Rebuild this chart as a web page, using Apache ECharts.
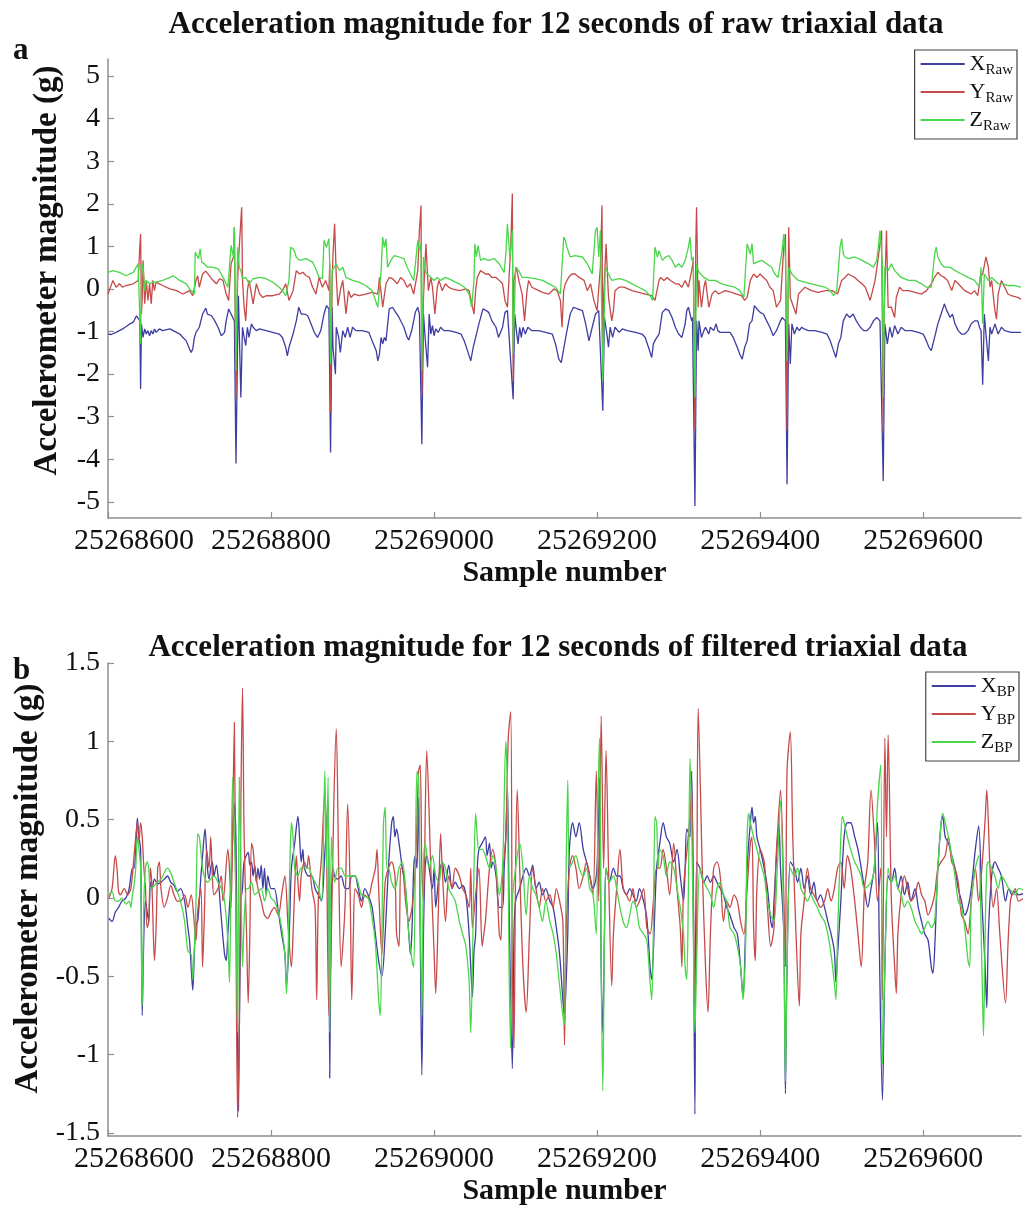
<!DOCTYPE html>
<html>
<head>
<meta charset="utf-8">
<script src="https://cdn.jsdelivr.net/npm/echarts@6/dist/echarts.min.js"></script>
<style>
html, body { margin: 0; padding: 0; background: #ffffff; }
#chart { width: 1023px; height: 1207px; }
</style>
</head>
<body>
<div id="chart"></div>
<script>
// Sample window shown on both panels
const firstSample = 25268600;
const lastSample = 25269720;
const sampleTicks = [25268600, 25268800, 25269000, 25269200, 25269400, 25269600];
const rawTicks = [-5, -4, -3, -2, -1, 0, 1, 2, 3, 4, 5];
const bpTicks = [-1.5, -1, -0.5, 0, 0.5, 1, 1.5];

// Raw triaxial acceleration, [sample offset from firstSample, g]
const rawX = [[0,-1.06],[4,-1.07],[10,-1.02],[18,-0.94],[27,-0.82],[31,-0.78],[35,-0.63],[37,-0.59],[39,-0.75],[40,-2.35],[41,-0.82],[43,-1.14],[45,-0.94],[47,-1.06],[49,-0.98],[51,-1.10],[53,-0.98],[55,-1.06],[57,-0.94],[59,-1.02],[63,-0.94],[67,-0.98],[76,-0.94],[84,-1.02],[88,-1.06],[92,-1.14],[96,-1.22],[100,-1.41],[102,-1.49],[104,-1.41],[106,-1.14],[108,-1.02],[112,-0.90],[116,-0.59],[120,-0.45],[122,-0.59],[127,-0.63],[131,-0.75],[135,-0.90],[139,-1.10],[141,-1.14],[143,-1.02],[145,-0.75],[148,-0.47],[151,-0.59],[153,-0.55],[155,-0.75],[157,-4.10],[159,-1.22],[160,-0.16],[161,-0.98],[163,-2.55],[165,-0.90],[167,-1.14],[169,-1.33],[171,-0.90],[173,-1.14],[176,-0.82],[178,-0.90],[182,-0.98],[186,-0.94],[194,-0.98],[202,-1.02],[210,-1.06],[214,-1.14],[218,-1.37],[220,-1.57],[222,-1.37],[227,-1.06],[231,-0.75],[234,-0.43],[237,-0.59],[241,-0.59],[245,-0.63],[249,-0.82],[253,-1.02],[257,-1.14],[261,-0.98],[265,-0.59],[268,-0.39],[271,-0.47],[273,-3.84],[275,-0.43],[276,-1.37],[279,-2.00],[280,-0.90],[283,-1.14],[285,-1.49],[288,-0.98],[291,-1.14],[294,-0.90],[297,-1.14],[300,-0.90],[304,-0.98],[312,-0.98],[320,-1.02],[324,-1.22],[329,-1.45],[331,-1.69],[333,-1.53],[335,-1.14],[337,-1.29],[339,-1.14],[341,-1.22],[345,-0.47],[349,-0.43],[353,-0.55],[357,-0.67],[363,-0.90],[367,-1.14],[369,-1.20],[373,-0.94],[377,-0.55],[380,-0.43],[382,-0.59],[385,-3.65],[387,-0.59],[389,-1.14],[392,-1.84],[394,-0.59],[396,-1.06],[398,-0.86],[400,-1.10],[402,-0.94],[405,-1.02],[408,-0.90],[412,-0.98],[418,-0.98],[427,-1.02],[433,-1.06],[437,-1.22],[441,-1.45],[445,-1.69],[448,-1.37],[451,-1.14],[455,-0.82],[460,-0.47],[464,-0.51],[467,-0.55],[471,-0.75],[476,-0.90],[479,-1.14],[480,-1.14],[484,-0.90],[487,-0.55],[490,-0.51],[497,-2.59],[499,-0.59],[501,-0.98],[503,-1.29],[505,-0.90],[507,-1.14],[509,-0.90],[512,-1.06],[515,-0.90],[520,-0.98],[528,-0.98],[537,-1.02],[545,-1.06],[549,-1.29],[553,-1.65],[556,-1.73],[559,-1.41],[563,-0.98],[567,-0.59],[571,-0.43],[576,-0.47],[582,-0.51],[586,-0.82],[590,-1.22],[594,-0.90],[598,-0.59],[602,-0.51],[607,-2.86],[609,-0.67],[612,-1.06],[614,-1.37],[616,-0.90],[619,-1.14],[622,-0.90],[627,-1.02],[631,-0.94],[637,-0.98],[647,-1.02],[655,-1.06],[659,-1.14],[663,-1.37],[667,-1.61],[669,-1.29],[672,-1.18],[676,-1.06],[680,-0.55],[684,-0.47],[688,-0.51],[692,-0.67],[696,-0.90],[700,-1.06],[704,-1.14],[708,-0.82],[710,-0.51],[712,-0.43],[716,-0.75],[717,-0.67],[720,-5.10],[722,-0.75],[724,-1.45],[725,-0.75],[728,-1.14],[731,-0.98],[733,-0.90],[737,-1.06],[739,-0.90],[743,-0.98],[746,-0.82],[748,-0.98],[751,-1.02],[757,-1.02],[763,-1.02],[767,-1.14],[771,-1.33],[775,-1.53],[778,-1.65],[781,-1.37],[784,-1.22],[787,-0.82],[790,-0.75],[793,-0.39],[796,-0.47],[800,-0.55],[804,-0.59],[808,-0.75],[812,-0.90],[816,-1.10],[820,-0.98],[825,-0.75],[827,-0.67],[831,-0.75],[833,-4.59],[835,-0.82],[837,-1.76],[839,-0.82],[842,-1.06],[845,-0.90],[848,-0.98],[851,-0.90],[854,-0.94],[859,-0.98],[867,-0.98],[876,-1.02],[882,-1.06],[886,-1.22],[890,-1.45],[893,-1.61],[896,-1.29],[899,-1.14],[902,-0.75],[906,-0.59],[910,-0.67],[914,-0.59],[918,-0.75],[923,-0.90],[927,-0.98],[931,-0.98],[935,-0.90],[939,-0.75],[943,-0.67],[947,-0.75],[951,-4.51],[953,-0.82],[956,-1.29],[959,-0.90],[962,-1.14],[965,-0.86],[969,-1.06],[973,-0.90],[978,-0.98],[986,-0.98],[994,-1.02],[1000,-1.06],[1004,-1.22],[1007,-1.37],[1010,-1.45],[1012,-1.29],[1015,-1.06],[1018,-0.82],[1022,-0.59],[1026,-0.35],[1029,-0.51],[1033,-0.67],[1036,-0.59],[1039,-0.82],[1043,-0.98],[1047,-1.06],[1051,-1.06],[1055,-0.98],[1059,-0.82],[1063,-0.75],[1067,-0.75],[1069,-0.90],[1071,-0.98],[1073,-2.25],[1075,-0.59],[1077,-1.06],[1080,-1.69],[1082,-0.90],[1084,-1.06],[1088,-0.82],[1092,-1.06],[1096,-0.90],[1100,-0.98],[1108,-1.02],[1120,-1.02]];

const rawY = [[0,-0.12],[6,0.20],[10,0.04],[14,0.12],[18,0.04],[22,0.08],[31,0.12],[37,0.20],[39,0.98],[40,1.29],[41,-0.59],[42,-0.20],[43,0.67],[44,0.20],[45,-0.35],[47,0.20],[49,-0.27],[51,0.12],[53,-0.35],[55,0.20],[57,-0.04],[59,0.16],[63,0.12],[67,0.08],[76,0.00],[84,-0.04],[92,-0.12],[96,-0.08],[100,-0.04],[104,-0.16],[108,0.20],[110,0.31],[112,0.04],[114,0.04],[116,0.35],[120,0.42],[127,0.24],[133,0.12],[137,0.24],[141,0.20],[145,-0.12],[148,-0.27],[151,0.59],[154,0.75],[155,1.45],[157,-2.55],[159,0.20],[161,0.98],[163,1.61],[164,1.92],[165,0.20],[167,-0.43],[169,-0.75],[171,-0.04],[173,0.20],[176,-0.12],[178,-0.35],[182,0.12],[186,-0.12],[190,-0.20],[194,-0.16],[202,-0.16],[210,-0.12],[214,-0.04],[218,0.12],[222,-0.27],[227,-0.04],[231,0.43],[235,0.35],[239,0.39],[243,0.31],[247,0.27],[251,0.04],[255,-0.12],[259,0.27],[263,0.04],[267,0.20],[271,-0.04],[272,0.60],[273,-2.90],[275,0.20],[276,0.80],[278,1.53],[280,0.30],[282,-0.40],[285,-0.04],[288,0.20],[292,-0.59],[295,-0.04],[298,-0.20],[302,-0.12],[308,-0.16],[316,-0.12],[324,-0.08],[331,-0.12],[333,0.27],[337,-0.43],[341,0.12],[345,0.27],[349,0.24],[355,0.12],[359,0.27],[363,0.20],[367,0.04],[371,0.12],[375,-0.12],[380,0.43],[382,1.37],[384,1.96],[385,-2.50],[387,-0.20],[390,1.06],[393,-0.04],[396,0.27],[398,0.04],[401,-0.59],[404,0.04],[406,0.20],[410,-0.04],[414,0.12],[418,0.04],[422,0.00],[431,-0.04],[439,0.00],[443,-0.04],[449,-0.59],[451,-0.04],[453,0.27],[457,0.43],[463,0.35],[467,0.35],[471,0.27],[476,0.27],[480,0.20],[484,0.12],[487,-0.27],[490,-0.43],[494,0.98],[496,2.24],[497,-2.16],[498,0.20],[501,0.51],[504,0.20],[508,-0.12],[511,-0.75],[514,-0.04],[516,0.20],[520,0.04],[524,0.00],[533,-0.08],[541,-0.12],[547,0.00],[551,-0.04],[555,-0.27],[557,-0.90],[559,-0.04],[561,0.12],[565,0.27],[569,0.35],[573,0.35],[578,0.27],[584,0.20],[588,-0.04],[592,0.12],[596,-0.27],[600,-0.51],[604,0.51],[606,1.96],[607,-2.00],[608,-0.20],[611,1.06],[614,-0.20],[618,-0.75],[620,-0.51],[622,-0.04],[627,0.04],[633,0.04],[643,-0.04],[651,-0.08],[659,-0.12],[667,-0.16],[671,-0.27],[676,0.20],[678,0.27],[682,0.20],[686,0.27],[690,0.20],[696,0.12],[700,0.12],[704,0.04],[708,0.20],[712,0.04],[716,0.43],[718,0.67],[720,-3.33],[721,0.98],[722,1.92],[724,-0.43],[725,0.20],[728,-0.43],[731,0.04],[733,0.20],[737,-0.43],[741,-0.12],[745,-0.04],[749,-0.12],[757,-0.04],[765,-0.08],[771,-0.12],[777,-0.16],[781,-0.27],[784,-0.20],[788,0.20],[792,0.35],[796,0.27],[800,0.35],[804,0.27],[808,0.20],[812,0.04],[816,-0.04],[820,-0.43],[825,-0.27],[829,0.98],[831,1.29],[833,-3.33],[835,1.45],[837,-0.20],[841,-0.43],[844,-0.59],[847,-0.12],[851,-0.04],[855,0.04],[863,-0.04],[871,-0.08],[880,-0.04],[888,-0.04],[895,-0.12],[900,0.20],[904,0.27],[908,0.35],[912,0.31],[916,0.27],[920,0.20],[925,0.12],[929,0.04],[935,-0.27],[941,0.20],[945,0.75],[949,1.37],[951,-3.33],[952,-0.59],[955,1.37],[957,-0.43],[961,-0.43],[965,-0.67],[967,-0.20],[971,0.04],[975,-0.04],[982,-0.04],[990,-0.08],[998,-0.12],[1004,-0.04],[1010,0.12],[1014,0.27],[1018,0.39],[1022,0.31],[1026,0.27],[1030,0.20],[1035,-0.04],[1039,0.20],[1043,0.12],[1047,0.04],[1051,-0.04],[1055,-0.08],[1059,-0.12],[1063,-0.04],[1067,-0.16],[1070,0.27],[1073,0.35],[1077,0.75],[1080,0.51],[1082,0.04],[1084,0.20],[1088,-0.51],[1090,-0.71],[1092,-0.12],[1096,0.20],[1100,0.04],[1104,-0.12],[1108,-0.16],[1116,-0.20],[1120,-0.24]];

const rawZ = [[0,0.39],[6,0.43],[14,0.39],[22,0.31],[31,0.39],[37,0.59],[39,0.63],[40,-1.29],[41,0.20],[42,0.59],[43,0.51],[45,-0.04],[47,0.20],[51,0.12],[55,0.16],[59,0.16],[67,0.20],[76,0.27],[80,0.31],[88,0.20],[96,0.12],[100,0.00],[106,-0.12],[107,0.86],[109,0.90],[111,0.71],[113,0.94],[115,0.63],[118,0.59],[122,0.51],[128,0.51],[135,0.47],[139,0.35],[143,0.20],[147,0.04],[151,1.02],[154,0.75],[155,1.45],[157,-1.92],[159,0.98],[161,0.51],[163,0.43],[165,0.24],[169,0.27],[173,0.12],[178,0.24],[186,0.27],[194,0.24],[202,0.16],[210,0.04],[214,-0.04],[218,-0.16],[222,0.20],[224,0.98],[227,0.94],[229,0.86],[231,0.75],[235,0.67],[243,0.71],[251,0.63],[255,0.47],[259,0.27],[263,0.24],[265,1.14],[268,0.98],[271,1.18],[272,0.59],[273,-1.76],[275,0.43],[280,0.59],[284,0.43],[288,0.51],[292,0.27],[300,0.20],[308,0.16],[316,0.08],[324,-0.04],[331,-0.43],[335,0.43],[337,1.22],[339,0.98],[341,1.18],[343,0.51],[347,0.67],[351,0.78],[357,0.75],[363,0.71],[367,0.51],[371,0.35],[375,0.20],[380,1.14],[382,0.90],[384,1.06],[385,-1.92],[387,0.75],[389,0.43],[391,0.35],[394,0.31],[400,0.20],[404,0.27],[408,0.20],[414,0.27],[422,0.20],[431,0.12],[437,0.04],[443,-0.12],[446,-0.43],[449,0.20],[450,1.06],[452,0.75],[454,1.02],[457,0.67],[461,0.71],[467,0.67],[474,0.71],[480,0.59],[486,0.39],[488,0.82],[490,1.53],[493,0.75],[496,1.37],[497,-1.53],[500,0.51],[504,0.43],[508,0.27],[514,0.27],[524,0.24],[533,0.20],[541,0.12],[549,0.04],[555,-0.12],[559,1.22],[561,1.14],[563,0.98],[567,0.75],[573,0.78],[582,0.75],[588,0.59],[594,0.35],[598,1.37],[600,1.45],[602,0.75],[604,1.37],[607,-2.16],[610,0.51],[614,0.35],[618,0.20],[627,0.24],[635,0.20],[643,0.12],[651,0.04],[659,-0.04],[665,-0.16],[668,-0.27],[671,0.98],[674,0.75],[676,0.90],[680,0.67],[684,0.75],[688,0.78],[692,0.67],[696,0.51],[700,0.59],[704,0.51],[708,0.67],[712,0.98],[714,1.22],[716,0.67],[718,0.75],[720,-2.55],[722,0.59],[724,0.43],[727,0.35],[731,0.27],[737,0.20],[745,0.20],[753,0.12],[761,0.08],[769,0.04],[775,-0.04],[780,-0.20],[782,-0.24],[784,1.06],[786,1.10],[788,0.82],[790,1.06],[792,0.59],[796,0.63],[802,0.67],[808,0.59],[814,0.51],[818,0.35],[822,0.27],[827,0.90],[829,1.29],[831,0.75],[833,-1.69],[835,0.51],[839,0.35],[843,0.27],[847,0.20],[855,0.16],[863,0.12],[871,0.08],[880,0.04],[886,-0.04],[890,-0.16],[894,-0.04],[898,0.98],[900,1.18],[902,0.82],[904,0.75],[908,0.71],[916,0.75],[925,0.67],[933,0.59],[939,0.51],[943,0.67],[945,0.98],[947,1.37],[950,0.59],[951,-2.55],[953,0.51],[957,0.43],[961,0.59],[965,0.43],[969,0.35],[973,0.27],[982,0.20],[990,0.20],[998,0.12],[1004,0.04],[1010,0.04],[1014,0.82],[1016,0.98],[1018,0.75],[1022,0.59],[1026,0.51],[1033,0.51],[1039,0.43],[1047,0.35],[1055,0.27],[1063,0.20],[1069,0.04],[1071,0.51],[1073,-0.82],[1075,0.35],[1080,0.20],[1084,0.27],[1092,0.12],[1098,0.12],[1104,0.08],[1112,0.08],[1120,0.04]];

// Band-pass filtered acceleration, [sample offset from firstSample, g]
const bpX = [[1,-0.13],[5,-0.15],[9,-0.09],[13,-0.06],[17,-0.02],[22,0.00],[26,0.06],[30,0.19],[32,0.19],[34,0.31],[36,0.51],[38,0.39],[40,0.31],[42,-0.75],[44,-0.23],[46,-0.02],[48,-0.09],[50,-0.15],[52,0.10],[54,0.06],[57,0.12],[61,0.09],[65,0.10],[69,0.12],[73,0.14],[77,0.10],[81,0.08],[85,0.04],[89,0.06],[94,-0.02],[98,-0.19],[100,-0.27],[102,-0.44],[104,-0.59],[106,-0.34],[108,-0.17],[110,-0.15],[112,-0.02],[114,0.14],[116,0.27],[119,0.44],[122,0.19],[124,0.12],[126,0.19],[128,0.23],[130,0.14],[133,0.21],[135,0.14],[139,-0.13],[143,-0.36],[145,-0.40],[147,-0.23],[149,-0.06],[151,0.10],[153,0.39],[155,0.60],[157,0.35],[160,-1.36],[163,-0.02],[165,0.06],[167,0.23],[172,0.29],[174,0.21],[176,0.23],[178,0.14],[180,0.21],[182,0.10],[184,0.19],[186,0.12],[188,0.21],[190,0.06],[192,0.19],[194,0.02],[196,0.14],[200,0.06],[204,0.06],[209,-0.09],[213,-0.23],[217,-0.36],[219,-0.56],[221,-0.40],[223,-0.13],[225,0.19],[229,0.35],[233,0.52],[235,0.39],[237,0.23],[239,0.31],[241,0.19],[246,0.14],[250,0.14],[254,0.06],[258,0.02],[262,-0.02],[266,0.29],[270,0.60],[272,-1.15],[274,-0.02],[276,0.19],[278,0.14],[282,0.12],[286,0.14],[291,0.06],[295,0.06],[299,0.14],[303,0.14],[307,0.06],[311,-0.02],[315,0.06],[319,0.02],[324,-0.06],[328,-0.23],[332,-0.40],[336,-0.50],[340,-0.23],[344,0.19],[348,0.48],[350,0.52],[352,0.39],[354,0.44],[357,0.35],[361,0.19],[365,0.06],[369,-0.23],[371,-0.36],[373,-0.19],[375,0.19],[377,0.27],[379,0.19],[381,0.64],[383,-0.23],[385,-1.13],[387,-0.23],[389,0.19],[391,0.27],[394,0.19],[398,0.06],[400,0.19],[402,-0.06],[406,0.14],[410,0.23],[414,0.10],[418,0.21],[422,0.06],[426,0.10],[431,0.06],[435,0.08],[439,0.02],[443,-0.23],[445,-0.44],[447,-0.63],[449,-0.34],[451,-0.23],[453,0.19],[455,0.31],[459,0.35],[463,0.39],[465,0.27],[468,0.35],[470,0.19],[472,0.23],[476,0.14],[480,-0.06],[484,-0.06],[486,0.19],[488,0.39],[490,0.71],[492,-0.02],[494,-0.65],[496,-1.09],[498,-0.23],[500,-0.02],[505,0.06],[509,0.14],[513,0.19],[517,0.14],[521,0.21],[525,0.06],[529,0.10],[533,0.02],[537,0.06],[542,-0.02],[546,-0.06],[550,-0.19],[554,-0.36],[558,-0.65],[560,-0.75],[562,-0.54],[564,-0.23],[566,0.31],[570,0.48],[574,0.39],[578,0.48],[583,0.31],[587,0.23],[591,0.14],[595,0.06],[599,0.14],[601,0.35],[603,0.77],[605,-0.44],[607,-0.86],[609,-0.23],[611,0.19],[615,0.10],[620,0.19],[624,0.14],[628,0.14],[632,0.06],[636,0.02],[640,0.06],[644,0.02],[648,-0.02],[652,0.06],[657,-0.02],[661,-0.13],[665,-0.44],[667,-0.52],[669,-0.34],[673,0.19],[677,0.35],[681,0.48],[685,0.39],[689,0.35],[694,0.23],[698,0.31],[702,0.14],[706,-0.02],[708,0.19],[710,0.44],[714,0.39],[716,0.81],[718,-0.02],[720,-1.38],[722,0.23],[726,0.19],[731,0.10],[735,0.14],[739,0.10],[743,0.14],[747,0.10],[751,0.06],[755,0.02],[759,-0.06],[763,-0.11],[768,-0.19],[772,-0.23],[776,-0.44],[779,-0.63],[782,-0.23],[784,0.19],[788,0.48],[790,0.58],[792,0.48],[794,0.52],[796,0.39],[800,0.31],[805,0.19],[809,0.06],[813,-0.15],[815,-0.19],[817,-0.02],[821,0.35],[823,0.48],[825,0.19],[829,-0.23],[831,-1.25],[833,-0.44],[837,0.23],[842,0.19],[846,0.10],[850,0.19],[854,0.06],[858,0.14],[862,0.02],[866,0.10],[870,-0.02],[874,0.02],[879,-0.06],[883,-0.15],[887,-0.23],[891,-0.34],[893,-0.54],[895,-0.36],[899,-0.02],[903,0.39],[907,0.48],[911,0.48],[916,0.39],[920,0.31],[924,0.19],[928,0.06],[932,-0.06],[936,0.06],[940,0.19],[944,0.48],[946,-0.23],[950,-1.29],[953,-0.44],[957,0.14],[961,0.10],[965,0.19],[969,0.06],[973,0.14],[977,0.02],[981,0.10],[985,-0.02],[990,0.06],[994,-0.06],[998,-0.15],[1002,-0.23],[1006,-0.27],[1010,-0.44],[1012,-0.48],[1014,-0.34],[1018,0.19],[1022,0.48],[1024,0.52],[1027,0.39],[1031,0.35],[1035,0.27],[1039,0.19],[1043,0.06],[1047,-0.02],[1051,-0.11],[1055,-0.06],[1059,0.06],[1064,0.31],[1068,0.46],[1072,-0.02],[1076,-0.44],[1078,-0.70],[1080,-0.23],[1084,0.14],[1088,0.23],[1092,0.19],[1096,0.14],[1101,-0.02],[1105,0.06],[1109,0.02],[1113,0.04],[1117,0.02],[1129,0.04]];

const bpY = [[1,0.00],[5,0.06],[9,0.27],[11,0.19],[13,0.04],[15,0.02],[20,0.06],[24,0.02],[28,0.06],[32,0.27],[34,0.39],[36,0.48],[38,0.35],[40,0.48],[42,0.39],[44,0.19],[46,0.06],[48,-0.19],[50,-0.15],[52,0.19],[54,0.06],[57,-0.40],[59,-0.19],[61,0.19],[63,0.23],[65,0.06],[69,-0.06],[73,0.00],[77,0.08],[81,0.02],[85,-0.02],[89,-0.02],[94,0.02],[98,-0.06],[102,0.02],[106,-0.17],[108,-0.27],[110,-0.09],[114,0.06],[116,-0.44],[118,-0.15],[121,0.31],[124,0.19],[126,0.39],[128,0.14],[130,0.02],[135,0.06],[139,0.14],[141,-0.02],[143,0.06],[147,0.31],[149,0.19],[151,-0.06],[153,0.48],[155,1.12],[157,-0.23],[159,-1.40],[161,-0.86],[163,0.60],[165,1.34],[167,0.39],[170,-0.23],[172,-0.67],[174,-0.23],[176,0.35],[178,0.31],[180,0.19],[184,0.06],[188,-0.02],[192,-0.11],[196,-0.13],[200,-0.09],[204,-0.06],[209,-0.11],[213,0.02],[217,0.14],[221,-0.19],[225,-0.44],[227,-0.23],[229,0.06],[231,0.27],[233,0.10],[235,-0.02],[237,0.14],[241,0.23],[244,0.19],[246,0.27],[250,0.06],[254,-0.06],[256,-0.65],[258,-0.02],[262,0.27],[266,0.69],[268,0.35],[271,-0.75],[274,-0.23],[277,0.60],[280,1.08],[283,0.19],[286,-0.44],[289,-0.23],[291,-0.02],[294,0.60],[297,0.06],[299,-0.65],[301,-0.23],[303,0.06],[307,0.02],[311,-0.06],[315,0.02],[319,0.00],[324,0.10],[328,0.19],[330,0.31],[332,0.06],[336,-0.36],[340,0.10],[344,0.19],[348,0.23],[352,0.14],[354,-0.23],[357,-0.31],[359,0.19],[361,0.19],[365,-0.02],[369,-0.15],[373,-0.06],[377,0.19],[381,0.81],[383,0.85],[385,0.19],[387,-0.02],[391,0.94],[396,0.19],[400,-0.34],[402,-0.61],[405,-0.13],[408,0.41],[410,0.19],[414,-0.15],[418,0.14],[422,0.06],[426,0.19],[431,0.14],[435,0.06],[439,0.02],[443,-0.06],[445,0.19],[447,-0.19],[451,0.02],[455,0.19],[459,-0.31],[461,-0.23],[463,-0.15],[468,0.19],[472,0.31],[476,0.19],[480,-0.23],[482,-0.27],[484,0.14],[488,0.39],[491,1.02],[494,1.19],[496,-0.44],[498,-0.96],[500,0.19],[502,0.69],[505,0.19],[509,-0.44],[513,-0.73],[517,-0.23],[521,0.19],[525,0.06],[529,-0.06],[533,0.06],[537,-0.02],[542,0.02],[546,-0.06],[550,0.06],[554,-0.02],[558,-0.15],[560,-0.94],[562,-0.23],[566,0.19],[570,0.27],[574,0.19],[578,0.06],[583,0.14],[587,0.23],[591,0.14],[595,0.02],[599,0.81],[602,-0.02],[605,1.16],[608,0.19],[611,0.94],[614,0.19],[618,-0.56],[620,-0.23],[624,0.06],[628,0.31],[632,0.06],[636,0.02],[640,-0.02],[644,0.06],[648,-0.06],[652,-0.02],[657,0.06],[661,-0.19],[665,-0.23],[669,-0.02],[673,0.19],[677,0.19],[681,0.31],[685,0.19],[689,0.02],[694,0.35],[698,0.06],[702,-0.19],[704,-0.44],[706,0.06],[710,0.29],[714,0.52],[716,0.69],[718,0.06],[720,-0.65],[722,-0.23],[724,1.21],[729,0.19],[733,-0.44],[736,-0.73],[739,-0.23],[743,0.19],[747,0.23],[751,0.14],[755,-0.15],[759,-0.02],[763,-0.06],[768,0.02],[772,-0.02],[776,-0.15],[780,-0.23],[784,0.06],[788,0.35],[790,0.39],[792,-0.19],[794,-0.40],[796,0.06],[800,0.31],[805,0.23],[809,-0.06],[813,-0.31],[817,-0.19],[819,0.19],[821,0.39],[825,0.69],[829,0.02],[831,-0.44],[833,0.81],[837,1.06],[840,0.39],[844,-0.23],[848,-0.69],[850,-0.23],[854,-0.02],[858,0.19],[862,0.06],[866,0.02],[870,-0.02],[874,-0.06],[879,-0.02],[883,0.06],[887,-0.02],[891,0.06],[895,0.19],[899,0.23],[903,0.06],[907,0.27],[911,0.19],[916,-0.02],[920,-0.23],[924,-0.44],[928,0.06],[932,0.23],[936,0.69],[940,0.39],[944,-0.02],[948,0.19],[950,-0.65],[953,1.02],[955,0.39],[957,1.04],[961,-0.02],[965,-0.44],[967,-0.61],[969,-0.23],[973,0.02],[977,0.14],[981,0.06],[985,-0.02],[990,0.02],[994,0.10],[998,0.02],[1002,-0.02],[1006,-0.11],[1010,-0.06],[1014,0.02],[1018,0.19],[1022,0.23],[1027,0.27],[1031,0.39],[1035,0.23],[1039,0.19],[1043,0.10],[1047,-0.11],[1051,-0.15],[1055,-0.23],[1059,-0.02],[1064,0.19],[1068,-0.02],[1072,0.19],[1076,0.50],[1078,0.69],[1082,0.19],[1086,-0.06],[1090,0.06],[1094,-0.23],[1101,-0.67],[1104,-0.30],[1107,-0.02],[1109,0.02],[1113,0.06],[1117,-0.02],[1129,0.02]];

const bpZ = [[1,0.02],[5,0.04],[9,-0.02],[13,-0.02],[17,0.00],[22,-0.04],[26,-0.02],[28,-0.06],[30,0.02],[32,0.08],[34,0.19],[36,0.39],[38,0.31],[40,0.19],[42,-0.69],[44,-0.02],[46,0.19],[48,0.23],[50,0.19],[52,0.06],[57,0.08],[61,0.10],[65,0.12],[73,0.19],[77,0.16],[81,0.10],[85,0.04],[89,-0.02],[94,-0.15],[98,-0.34],[102,-0.36],[104,-0.52],[106,-0.31],[108,-0.02],[110,0.41],[112,0.39],[114,0.29],[116,0.19],[118,0.14],[122,0.10],[126,0.12],[130,0.14],[135,0.10],[139,0.06],[143,-0.02],[147,-0.27],[149,-0.54],[151,0.19],[153,0.77],[155,0.39],[157,-0.02],[159,-0.86],[161,0.77],[163,0.19],[165,-0.44],[167,-0.15],[170,0.06],[172,0.06],[176,0.10],[180,0.02],[184,0.04],[188,0.06],[192,-0.02],[196,0.06],[200,0.00],[204,-0.02],[209,-0.09],[213,-0.19],[217,-0.36],[219,-0.61],[221,-0.34],[223,0.19],[225,0.48],[227,0.39],[229,0.19],[233,0.14],[237,0.19],[246,0.19],[250,0.14],[254,0.10],[258,0.06],[262,-0.02],[266,0.81],[268,0.19],[270,0.77],[272,-0.86],[274,0.39],[276,0.19],[278,0.10],[282,0.19],[286,0.19],[291,0.14],[295,0.14],[303,0.14],[311,0.02],[319,0.00],[324,-0.13],[328,-0.29],[332,-0.65],[334,-0.75],[336,-0.23],[338,0.48],[340,0.58],[342,0.19],[344,0.19],[348,0.10],[352,0.06],[357,0.19],[361,0.23],[365,0.06],[369,-0.23],[373,-0.40],[375,-0.44],[377,0.19],[379,0.81],[381,0.77],[383,-0.02],[385,-0.75],[387,0.19],[389,0.35],[394,0.19],[398,0.27],[402,0.14],[406,0.10],[410,0.23],[414,0.19],[418,0.06],[422,0.02],[426,-0.02],[431,-0.15],[435,-0.23],[439,-0.31],[443,-0.54],[445,-0.86],[447,-0.44],[449,0.19],[451,0.54],[453,0.39],[455,0.31],[459,0.31],[463,0.27],[468,0.19],[472,0.27],[476,0.19],[480,0.02],[484,0.19],[488,1.00],[490,0.69],[492,-0.44],[494,-0.96],[496,-0.02],[500,0.19],[505,0.35],[509,0.19],[513,-0.11],[517,0.14],[521,0.06],[525,0.02],[529,-0.06],[533,-0.15],[537,-0.02],[542,-0.15],[546,-0.23],[550,-0.36],[554,-0.56],[558,-0.75],[560,-0.81],[562,0.19],[564,0.75],[566,0.19],[570,0.23],[574,0.27],[578,0.19],[583,0.14],[587,0.19],[591,0.06],[595,0.02],[599,-0.23],[601,0.60],[603,1.02],[605,-0.44],[607,-1.23],[609,-0.23],[611,0.19],[615,0.10],[620,0.14],[624,0.06],[628,-0.06],[632,-0.15],[636,-0.19],[640,-0.11],[644,-0.02],[648,-0.06],[652,-0.19],[657,-0.23],[661,-0.27],[665,-0.54],[667,-0.65],[669,-0.23],[671,0.52],[673,0.48],[675,0.19],[677,0.31],[681,0.27],[685,0.14],[689,0.23],[694,0.19],[698,0.06],[702,-0.06],[706,-0.23],[708,-0.44],[710,-0.52],[712,0.06],[714,0.89],[716,0.48],[718,-0.23],[720,-0.86],[722,-0.44],[726,0.19],[731,0.10],[735,0.06],[739,0.02],[743,-0.06],[747,0.06],[751,0.10],[755,0.02],[759,-0.02],[763,-0.19],[768,-0.23],[772,-0.31],[776,-0.44],[779,-0.65],[782,-0.34],[784,0.39],[786,0.54],[788,0.48],[792,0.39],[796,0.31],[800,0.23],[805,0.14],[809,-0.02],[813,-0.11],[817,-0.15],[821,0.19],[825,0.62],[829,-0.23],[831,-1.17],[833,-0.44],[837,0.19],[842,0.14],[846,0.19],[850,0.06],[854,0.02],[858,-0.02],[862,0.02],[866,-0.02],[870,-0.06],[874,-0.11],[879,-0.15],[883,-0.23],[887,-0.36],[891,-0.54],[893,-0.65],[895,-0.23],[899,0.39],[901,0.52],[903,0.48],[907,0.39],[911,0.31],[916,0.23],[920,0.19],[924,0.14],[928,0.06],[936,0.10],[940,0.19],[944,0.60],[948,0.85],[950,-1.06],[953,-0.44],[957,0.19],[961,0.10],[965,0.14],[969,0.06],[973,0.02],[977,-0.06],[981,-0.02],[985,-0.06],[990,-0.15],[994,-0.19],[998,-0.23],[1002,-0.19],[1006,-0.15],[1010,-0.19],[1014,-0.15],[1018,0.19],[1022,0.48],[1024,0.54],[1027,0.48],[1031,0.39],[1035,0.27],[1039,0.14],[1043,-0.02],[1047,-0.06],[1051,-0.19],[1055,-0.40],[1057,-0.44],[1059,-0.02],[1064,0.19],[1068,0.27],[1072,-0.44],[1074,-0.88],[1076,-0.23],[1078,0.19],[1080,0.23],[1084,0.19],[1088,0.14],[1092,0.06],[1096,0.14],[1101,0.10],[1105,0.06],[1109,0.04],[1113,0.02],[1117,0.06],[1129,0.04]];

const SERIF = '"Liberation Serif", "Times New Roman", serif';
const COLORS = { x: '#3d3da2', y: '#c64a4a', z: '#4ad64a' };
const AXIS_GRAY = '#8f8f8f';

const toSamples = arr => arr.map(p => [firstSample + p[0], p[1]]);

function sampleAxis(gridIndex) {
  return {
    type: 'value', gridIndex,
    min: firstSample, max: lastSample,
    name: 'Sample number', nameLocation: 'middle', nameGap: 40,
    nameTextStyle: { fontFamily: SERIF, fontSize: 30, fontWeight: 'bold', color: '#111' },
    axisLine: { show: true, onZero: false, lineStyle: { color: AXIS_GRAY, width: 1.5 } },
    axisTick: { show: true, inside: true, length: 6, customValues: sampleTicks, lineStyle: { color: AXIS_GRAY, width: 1.2 } },
    axisLabel: {
      customValues: sampleTicks, margin: 8,
      fontFamily: SERIF, fontSize: 30, color: '#111',
      formatter: v => v === firstSample ? '{first|' + v + '}' : String(v),
      rich: { first: { fontFamily: SERIF, fontSize: 30, color: '#111', padding: [0, 0, 0, 52] } }
    },
    splitLine: { show: false }
  };
}

function magnitudeAxis(gridIndex, min, max, ticks, shift) {
  return {
    type: 'value', gridIndex, min, max,
    name: 'Accelerometer magnitude (g)', nameLocation: 'middle', nameGap: 44,
    nameTextStyle: { fontFamily: SERIF, fontSize: 33, fontWeight: 'bold', color: '#111', padding: [0, 0, 0, shift] },
    axisLine: { show: true, onZero: false, lineStyle: { color: AXIS_GRAY, width: 1.5 } },
    axisTick: { show: true, inside: true, length: 6, customValues: ticks, lineStyle: { color: AXIS_GRAY, width: 1.2 } },
    axisLabel: { customValues: ticks, margin: 8, fontFamily: SERIF, fontSize: 28, color: '#111', formatter: v => String(v) },
    splitLine: { show: false }
  };
}

function trace(name, data, color, axisIndex, smooth) {
  return {
    name, type: 'line', xAxisIndex: axisIndex, yAxisIndex: axisIndex,
    data: toSamples(data), symbol: 'none', showSymbol: false, sampling: null,
    smooth, clip: true, animation: false,
    lineStyle: { color, width: 1.3 }, itemStyle: { color }
  };
}

function legendBox(names, right, top) {
  return {
    data: names, orient: 'vertical', right, top,
    icon: 'rect', itemWidth: 44, itemHeight: 2,
    backgroundColor: '#ffffff', borderColor: '#444', borderWidth: 1.2,
    padding: [3, 4, 4, 6], itemGap: 2,
    formatter: n => '{m|' + n.charAt(0) + '}{s|' + n.slice(1) + '}',
    textStyle: {
      rich: {
        m: { fontFamily: SERIF, fontSize: 22, color: '#111', lineHeight: 30, verticalAlign: 'middle' },
        s: { fontFamily: SERIF, fontSize: 15, color: '#111', lineHeight: 30, verticalAlign: 'bottom', padding: [0, 0, 1, 0] }
      }
    }
  };
}

const chart = echarts.init(document.getElementById('chart'), null, { renderer: 'canvas' });
chart.setOption({
  backgroundColor: '#ffffff',
  animation: false,
  title: [
    { text: 'Acceleration magnitude for 12 seconds of raw triaxial data', left: 551, top: 4, textAlign: 'center',
      textStyle: { fontFamily: SERIF, fontSize: 31, fontWeight: 'bold', color: '#111' } },
    { text: 'a', left: 8, top: 30, textStyle: { fontFamily: SERIF, fontSize: 31, fontWeight: 'bold', color: '#111' } },
    { text: 'Acceleration magnitude for 12 seconds of filtered triaxial data', left: 553, top: 627, textAlign: 'center',
      textStyle: { fontFamily: SERIF, fontSize: 31, fontWeight: 'bold', color: '#111' } },
    { text: 'b', left: 8, top: 650, textStyle: { fontFamily: SERIF, fontSize: 31, fontWeight: 'bold', color: '#111' } }
  ],
  legend: [
    legendBox(['XRaw', 'YRaw', 'ZRaw'], 6, 50),
    legendBox(['XBP', 'YBP', 'ZBP'], 4, 672)
  ],
  grid: [
    { left: 108, top: 59, width: 913, height: 459 },
    { left: 108, top: 663, width: 913, height: 483 }
  ],
  xAxis: [sampleAxis(0), sampleAxis(1)],
  yAxis: [
    magnitudeAxis(0, -5.38, 5.4, rawTicks, 36),
    magnitudeAxis(1, -1.52, 1.5, bpTicks, 22)
  ],
  series: [
    trace('XRaw', rawX, COLORS.x, 0, false),
    trace('YRaw', rawY, COLORS.y, 0, false),
    trace('ZRaw', rawZ, COLORS.z, 0, false),
    trace('XBP', bpX, COLORS.x, 1, 0.3),
    trace('YBP', bpY, COLORS.y, 1, 0.3),
    trace('ZBP', bpZ, COLORS.z, 1, 0.3)
  ]
});
</script>
</body>
</html>
